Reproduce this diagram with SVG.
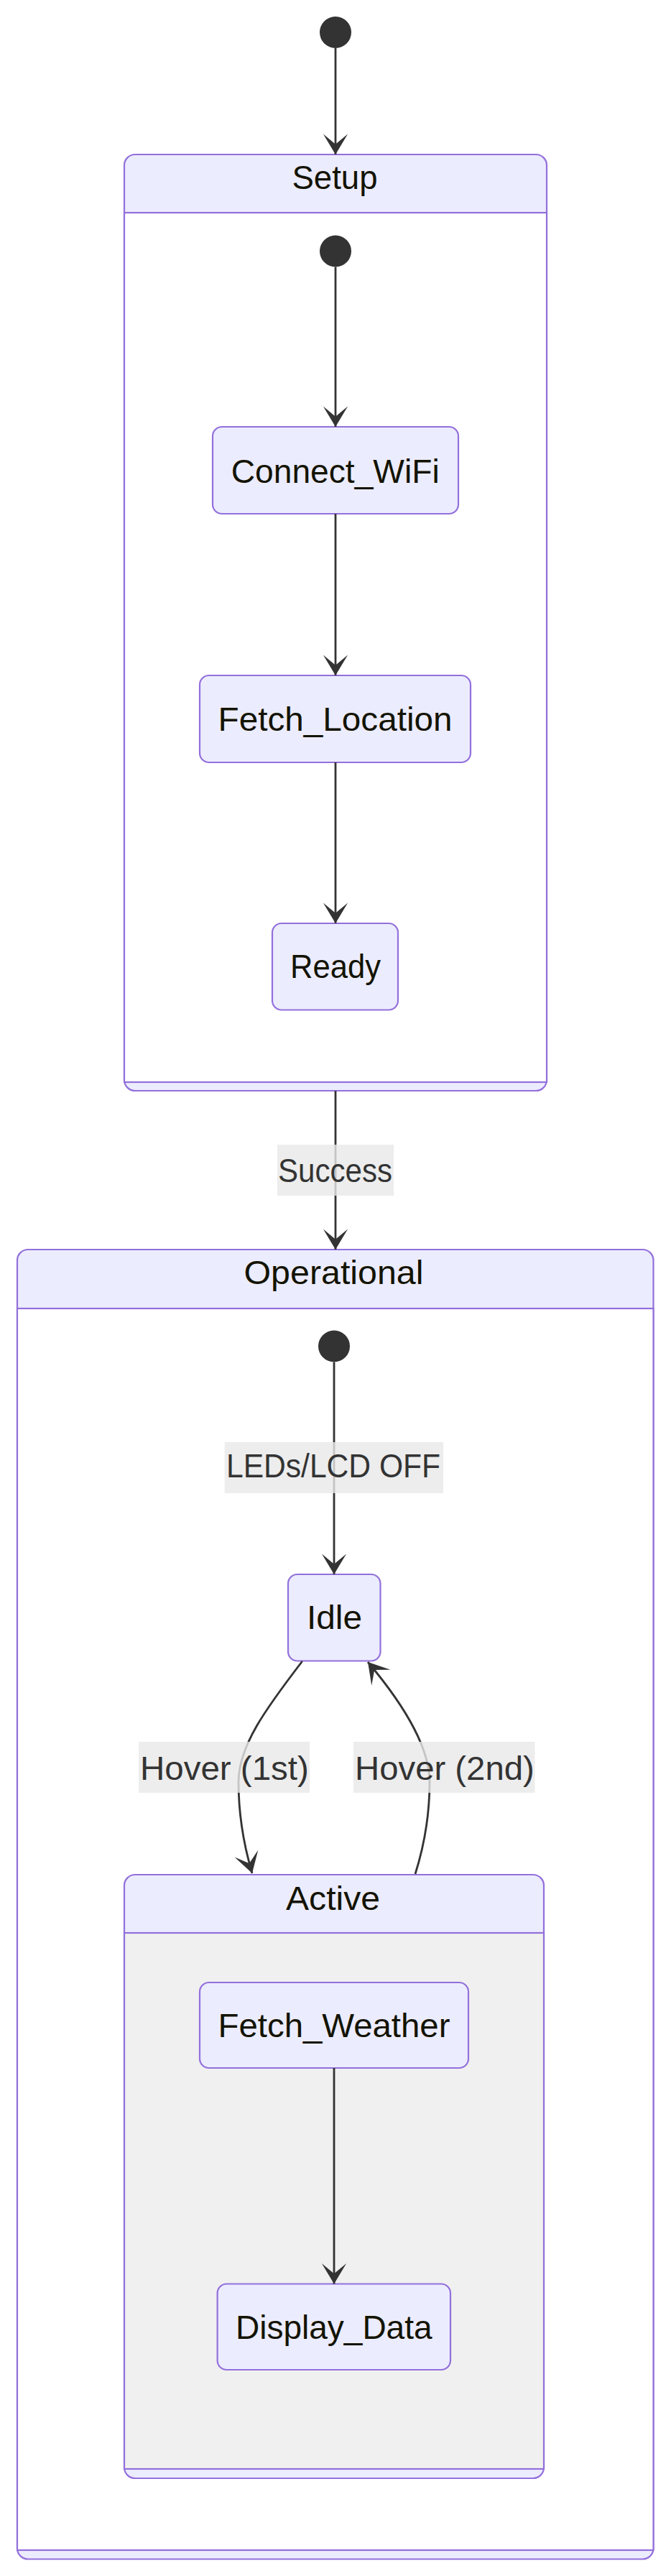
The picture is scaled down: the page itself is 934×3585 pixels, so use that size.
<svg xmlns="http://www.w3.org/2000/svg" width="934" height="3585" viewBox="0 0 934 3585">
<style>
.outer{fill:#ECECFF;stroke:#9370DB;stroke-width:2.2}
.inner{fill:#ffffff;stroke:#9370DB;stroke-width:2.2}
.inneralt{fill:#f0f0f0;stroke:#9370DB;stroke-width:2.2}
.node{fill:#ECECFF;stroke:#9370DB;stroke-width:2.2}
.start{fill:#333333}
.t{font-family:"Liberation Sans",Arial,sans-serif;font-size:46px;fill:#131300;text-anchor:middle}
.lt{font-family:"Liberation Sans",Arial,sans-serif;font-size:46px;fill:#333333;text-anchor:middle}
.lbg{fill:#e8e8e8;fill-opacity:0.8}
.edge{fill:none;stroke:#333333;stroke-width:2.8;marker-end:url(#barb)}
</style>
<defs>
<marker id="barb" viewBox="0 0 20 14" refX="19" refY="7" markerWidth="57" markerHeight="40" markerUnits="userSpaceOnUse" orient="auto">
<path d="M19,7 L9,13 L14,7 L9,1 Z" fill="#333333"/>
</marker>
</defs>
<rect width="934" height="3585" fill="#ffffff"/>

<g id="Setup">
<rect class="outer" x="173" y="215" width="588" height="1303" rx="15"/>
<rect class="inner" x="173" y="296" width="588" height="1210"/>
<text class="t" x="466" y="263" textLength="119" lengthAdjust="spacingAndGlyphs">Setup</text>
</g>

<g id="Operational">
<rect class="outer" x="24" y="1739" width="885.5" height="1822.5" rx="15"/>
<rect class="inner" x="24" y="1821" width="885.5" height="1728"/>
<text class="t" x="464.5" y="1787" textLength="250" lengthAdjust="spacingAndGlyphs">Operational</text>
</g>

<g id="Active">
<rect class="outer" x="173" y="2609" width="584" height="840" rx="15"/>
<rect class="inneralt" x="173" y="2690" width="584" height="746"/>
<text class="t" x="463.5" y="2658" textLength="131" lengthAdjust="spacingAndGlyphs">Active</text>
</g>

<g id="start_root"><circle class="start" cx="467" cy="45" r="22"/></g>
<g id="start_setup"><circle class="start" cx="467" cy="349.5" r="22"/></g>
<g id="start_operational"><circle class="start" cx="465" cy="1873.5" r="22"/></g>

<g id="Connect_WiFi">
<rect class="node" x="296" y="594" width="342" height="121" rx="13"/>
<text class="t" x="466.7" y="672" textLength="290" lengthAdjust="spacingAndGlyphs">Connect_WiFi</text>
</g>
<g id="Fetch_Location">
<rect class="node" x="278" y="940" width="377" height="121" rx="13"/>
<text class="t" x="466.6" y="1017" textLength="326" lengthAdjust="spacingAndGlyphs">Fetch_Location</text>
</g>
<g id="Ready">
<rect class="node" x="379" y="1285" width="175" height="120.5" rx="13"/>
<text class="t" x="467" y="1361" textLength="126" lengthAdjust="spacingAndGlyphs">Ready</text>
</g>
<g id="Idle">
<rect class="node" x="401" y="2191" width="128.5" height="120.5" rx="13"/>
<text class="t" x="465.5" y="2267" textLength="77" lengthAdjust="spacingAndGlyphs">Idle</text>
</g>
<g id="Fetch_Weather">
<rect class="node" x="278" y="2759" width="374" height="119" rx="13"/>
<text class="t" x="465" y="2835" textLength="323" lengthAdjust="spacingAndGlyphs">Fetch_Weather</text>
</g>
<g id="Display_Data">
<rect class="node" x="302.6" y="3178.5" width="324.4" height="119.5" rx="13"/>
<text class="t" x="464.8" y="3255" textLength="273.5" lengthAdjust="spacingAndGlyphs">Display_Data</text>
</g>

<g id="connectors">
<path class="edge" d="M467,67 L467,215"/>
<path class="edge" d="M467,371.5 L467,594"/>
<path class="edge" d="M467,715 L467,940"/>
<path class="edge" d="M467,1061 L467,1285"/>
<path class="edge" d="M467,1518 L467,1739"/>
<path class="edge" d="M465,1895.5 L465,2191"/>
<path class="edge" d="M420.7,2312 C370,2378 332,2430 332,2480 C332,2530 340,2570 351,2607"/>
<path class="edge" d="M578,2608 C590,2570 598,2530 598,2480 C598,2430 560,2370 512,2313"/>
<path class="edge" d="M465,2878 L465,3178.5"/>
<g id="edge-labels">
<rect class="lbg" x="386" y="1593" width="162" height="71"/>
<text class="lt" x="466.5" y="1645" textLength="159" lengthAdjust="spacingAndGlyphs">Success</text>
<rect class="lbg" x="312.7" y="2007" width="304.3" height="71"/>
<text class="lt" x="464" y="2056" textLength="298" lengthAdjust="spacingAndGlyphs">LEDs/LCD OFF</text>
<rect class="lbg" x="193" y="2424" width="238" height="71"/>
<text class="lt" x="312.4" y="2477" textLength="235" lengthAdjust="spacingAndGlyphs">Hover (1st)</text>
<rect class="lbg" x="492" y="2424" width="252.5" height="71"/>
<text class="lt" x="618.9" y="2477" textLength="249.7" lengthAdjust="spacingAndGlyphs">Hover (2nd)</text>
</g>
</g>
</svg>
